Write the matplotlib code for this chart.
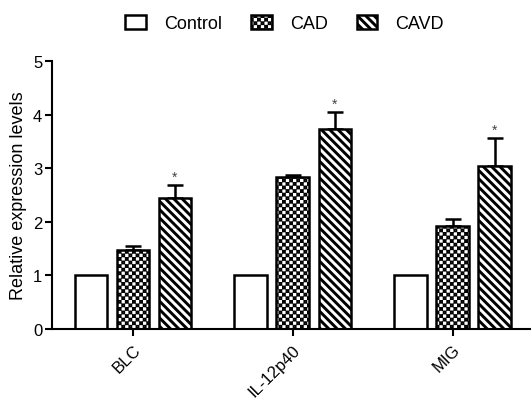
import matplotlib
matplotlib.use('Agg')
import matplotlib.pyplot as plt
import matplotlib.hatch as mhatch
from matplotlib.path import Path
import numpy as np
import warnings

# Данные
genes = ['BLC', 'IL-12p40', 'MIG']
groups = ['Control', 'CAD', 'CAVD']
control = [1.0, 1.0, 1.0]
cad = [1.47, 2.83, 1.92]
cavd = [2.44, 3.74, 3.04]
control_err = [0.0, 0.0, 0.0]
cad_err = [0.08, 0.04, 0.13]
cavd_err = [0.25, 0.30, 0.52]
yticks = [0, 1, 2, 3, 4, 5]

plt.rcParams['font.family'] = ['Liberation Sans', 'DejaVu Sans']
plt.rcParams['hatch.linewidth'] = 2.1
plt.rcParams['hatch.color'] = 'black'
warnings.filterwarnings('ignore')


# Шахматная штриховка ('c' в строке штриховки)
class CheckerHatch(mhatch.HatchPatternBase):
    def __init__(self, hatch, density):
        self.n = hatch.count('c') * 28
        if self.n:
            self.cells = [(i, j) for i in range(self.n) for j in range(self.n) if (i + j) % 2 == 0]
        else:
            self.cells = []
        self.num_vertices = len(self.cells) * 5

    def set_vertices_and_codes(self, vertices, codes):
        s = 1.0 / self.n
        lw = plt.rcParams['hatch.linewidth'] / 72.0
        # обводка расширяет квадрат, поэтому уменьшаем его заранее
        d = (s + lw - 1.08 * s) / 2
        d = min(d, s * 0.49)
        verts = []
        cds = []
        for i, j in self.cells:
            x0, y0 = i * s + d, j * s + d
            x1, y1 = (i + 1) * s - d, (j + 1) * s - d
            verts += [[x0, y0], [x1, y0], [x1, y1], [x0, y1], [x0, y0]]
            cds += [Path.MOVETO, Path.LINETO, Path.LINETO, Path.LINETO, Path.CLOSEPOLY]
        vertices[:] = np.array(verts)
        codes[:] = cds


mhatch._hatch_types.append(CheckerHatch)

fig = plt.figure(figsize=(5.31, 4.06), dpi=100)
ax = fig.add_axes([52 / 531, 1 - 330 / 406, 1 - 52 / 531, (330 - 62) / 406])

x = np.arange(len(genes))
w = 0.204
off = 0.263
series = [(control, control_err, '', -off), (cad, cad_err, 'c', 0), (cavd, cavd_err, '\\' * 4, off)]
handles = []
for (vals, errs, hatch, dx), name in zip(series, groups):
    b = ax.bar(x + dx, vals, width=w, facecolor='white', edgecolor='black',
               linewidth=1.8, hatch=hatch, label=name, zorder=2)
    handles.append(b)
    if any(e > 0 for e in errs):
        ax.errorbar(x + dx, vals, yerr=[np.zeros(len(errs)), errs], fmt='none',
                    ecolor='black', elinewidth=1.8, capsize=6, capthick=1.8, zorder=1)

# звездочки над CAVD
for xi, v, e in zip(x, cavd, cavd_err):
    ax.annotate('*', (xi + off, v + e), xytext=(0, 1), textcoords='offset points',
                ha='center', va='bottom', fontsize=10, color='#444444')

ax.set_xlim(-0.506, 2.49)
ax.set_ylim(0, 5)
ax.set_yticks(yticks)
ax.set_xticks(x)
ax.set_xticklabels(genes, rotation=45, ha='right', rotation_mode='anchor')
ax.tick_params(axis='both', labelsize=12, width=1.5, length=5, color='black', pad=2)
ax.tick_params(axis='x', pad=4)
ax.spines['top'].set_visible(False)
ax.spines['right'].set_visible(False)
ax.spines['left'].set_linewidth(1.5)
ax.spines['bottom'].set_linewidth(1.5)
ax.set_ylabel('Relative expression levels', fontsize=13, labelpad=4)

fig.legend(handles=handles, labels=groups, loc='center', bbox_to_anchor=(0.536, 0.94),
           ncol=3, frameon=False, fontsize=13, handlelength=1.15, handleheight=0.85,
           handletextpad=1.0, columnspacing=1.6)

plt.savefig('out.png', dpi=100)
plt.close(fig)
